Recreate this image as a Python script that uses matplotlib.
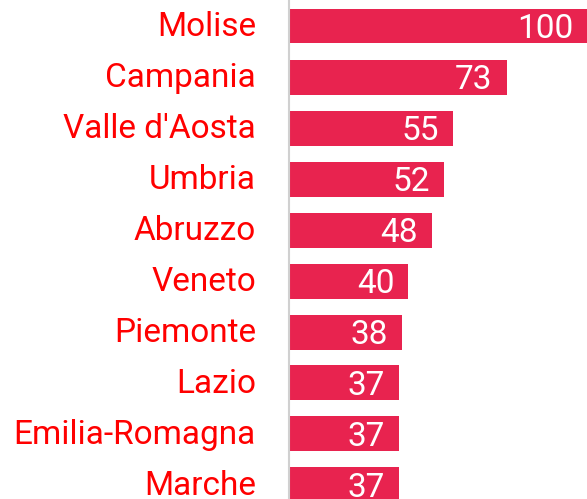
import matplotlib.pyplot as plt

regions = ['Molise', 'Campania', "Valle d'Aosta", 'Umbria', 'Abruzzo',
           'Veneto', 'Piemonte', 'Lazio', 'Emilia-Romagna', 'Marche']
values = [100, 73, 55, 52, 48, 40, 38, 37, 37, 37]

bar_color = '#e8234f'
label_color = '#ff0000'

plt.rcParams['font.family'] = ['Roboto', 'DejaVu Sans']

fig = plt.figure(figsize=(5.87, 4.99), dpi=100)
left = 289 / 587
ax = fig.add_axes([left, 0, 1 - left, 1])

pos = list(range(len(regions)))
ax.barh(pos, values, height=35 / 51, color=bar_color)

ax.set_xlim(0, 100)
ax.set_ylim((499 - 26) / 51, -26 / 51)

for i, (name, v) in enumerate(zip(regions, values)):
    ax.annotate(name, xy=(0, i), xytext=(-33, -1), textcoords='offset pixels',
                ha='right', va='center', color=label_color, fontsize=24)
    ax.annotate(str(v), xy=(v, i), xytext=(-14, -3), textcoords='offset pixels',
                ha='right', va='center', color='white', fontsize=24)

for s in ['top', 'right', 'bottom']:
    ax.spines[s].set_visible(False)
ax.spines['left'].set_color('#d0d0d0')
ax.spines['left'].set_linewidth(1.5)
ax.set_xticks([])
ax.set_yticks([])
ax.patch.set_alpha(0)

fig.savefig('out.png', dpi=100)
